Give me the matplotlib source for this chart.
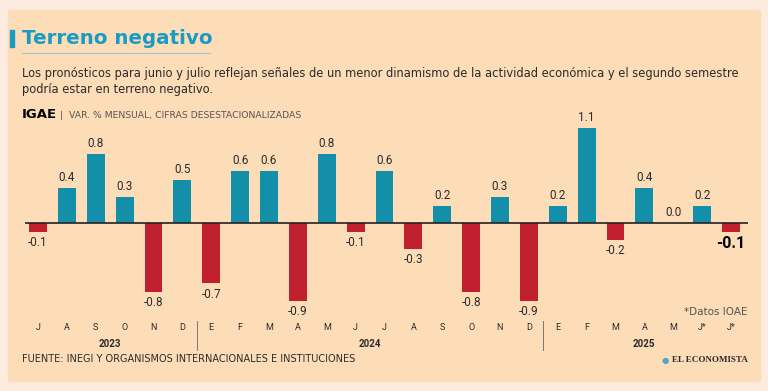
import matplotlib.pyplot as plt
from matplotlib.patches import Rectangle

# IGAE monthly change, Jul 2023 - Jul 2025
months = ["J", "A", "S", "O", "N", "D",
          "E", "F", "M", "A", "M", "J", "J", "A", "S", "O", "N", "D",
          "E", "F", "M", "A", "M", "J*", "J*"]
values = [-0.1, 0.4, 0.8, 0.3, -0.8, 0.5,
          -0.7, 0.6, 0.6, -0.9, 0.8, -0.1, 0.6, -0.3, 0.2, -0.8, 0.3, -0.9,
          0.2, 1.1, -0.2, 0.4, 0.0, 0.2, -0.1]
years = ["2023", "2024", "2025"]
year_pos = [2.5, 11.5, 21]
separators = [5.5, 17.5]

W, H = 768, 391
teal = "#138fa9"
red = "#c1212e"
panel = "#fddcb8"
outer = "#fcebdf"
text_col = "#2b2b2b"
cond = ["Roboto", "DejaVu Sans"]

fig = plt.figure(figsize=(W / 100, H / 100), dpi=100)
fig.patch.set_facecolor(outer)


def fx(px):
    return px / W


def fy(py):
    return 1 - py / H


# inner panel
fig.patches.append(Rectangle((fx(8), fy(381)), fx(752), 371 / H,
                             transform=fig.transFigure, color=panel, zorder=0))
fig.patches.append(Rectangle((fx(10), fy(47)), fx(4), 17 / H,
                             transform=fig.transFigure, color="#1a9bc4", zorder=1))
fig.add_artist(plt.Line2D([fx(22), fx(210)], [fy(53), fy(53)],
                          transform=fig.transFigure, color="#9fc9cf", lw=0.8))

fig.text(fx(22), fy(39), "Terreno negativo", color="#1a9bc4", fontsize=14.3,
         fontweight="bold", va="center", ha="left")
fig.text(fx(22), fy(74), "Los pronósticos para junio y julio reflejan señales de un menor "
         "dinamismo de la actividad económica y el segundo semestre",
         fontsize=8.3, color=text_col, va="center")
fig.text(fx(22), fy(89), "podría estar en terreno negativo.", fontsize=8.3,
         color=text_col, va="center")
fig.text(fx(22), fy(115), "IGAE", fontsize=9.5, fontweight="bold", color="black", va="center")
fig.text(fx(60), fy(115), "|  VAR. % MENSUAL, CIFRAS DESESTACIONALIZADAS", fontsize=6.7,
         color="#555555", va="center")

# bar axes: zero line spans x 25..748, index 0 at x=38, step 28.875 px
step = (731 - 38) / 24
ax_left, ax_right = 25, 748
ax_top, ax_bot = 120, 310
zero_y, per_unit = 223, 86.4
ax = fig.add_axes([fx(ax_left), fy(ax_bot), (ax_right - ax_left) / W, (ax_bot - ax_top) / H])
ax.set_zorder(5)
ax.patch.set_alpha(0)
ax.set_xlim(-(38 - ax_left) / step, 24 + (ax_right - 731) / step)
ax.set_ylim(-(ax_bot - zero_y) / per_unit, (zero_y - ax_top) / per_unit)
ax.axis("off")

x = list(range(len(values)))
colors = [teal if v >= 0 else red for v in values]
ax.bar(x, values, width=0.62, color=colors, zorder=2)
ax.axhline(0, color="#222222", lw=1.2, zorder=3)

for i, v in enumerate(values):
    last = i == len(values) - 1
    if v >= 0:
        ax.annotate(f"{v:.1f}", (i, v), xytext=(0, 3), textcoords="offset points",
                    ha="center", va="bottom", fontsize=8.5, color=text_col,
                    family=cond, annotation_clip=False)
    else:
        ax.annotate(f"{v:.1f}", (i, v), xytext=(0, -3), textcoords="offset points",
                    ha="center", va="top", fontsize=11.5 if last else 8.5,
                    fontweight="bold" if last else "normal",
                    color="black" if last else text_col,
                    family=cond, annotation_clip=False)

# month and year labels
trans = ax.get_xaxis_transform()
for i, m in enumerate(months):
    ax.text(i, -(328 - ax_bot) / (ax_bot - ax_top), m, transform=trans, ha="center",
            va="center", fontsize=6.5, color=text_col, family=cond, clip_on=False)
for yr, p in zip(years, year_pos):
    ax.text(p, -(344 - ax_bot) / (ax_bot - ax_top), yr, transform=trans, ha="center",
            va="center", fontsize=7, fontweight="bold", color=text_col, family=cond,
            clip_on=False)
for s in separators:
    ax.plot([s, s], [-(321 - ax_bot) / (ax_bot - ax_top), -(350 - ax_bot) / (ax_bot - ax_top)],
            transform=trans, color="#777777", lw=0.7, clip_on=False)

fig.text(fx(748), fy(312), "*Datos IOAE", fontsize=7.5, color="#555555", ha="right", va="center")
fig.text(fx(22), fy(359), "FUENTE: INEGI Y ORGANISMOS INTERNACIONALES E INSTITUCIONES",
         fontsize=7, color=text_col, va="center")
fig.text(fx(748), fy(360), "EL ECONOMISTA", fontsize=6.5, fontweight="bold",
         family="Liberation Serif", color=text_col, ha="right", va="center")
fig.text(fx(665), fy(360), "●", fontsize=6, color="#4fa3c7", ha="center", va="center")

fig.savefig("out.png", dpi=100, facecolor=fig.get_facecolor())
